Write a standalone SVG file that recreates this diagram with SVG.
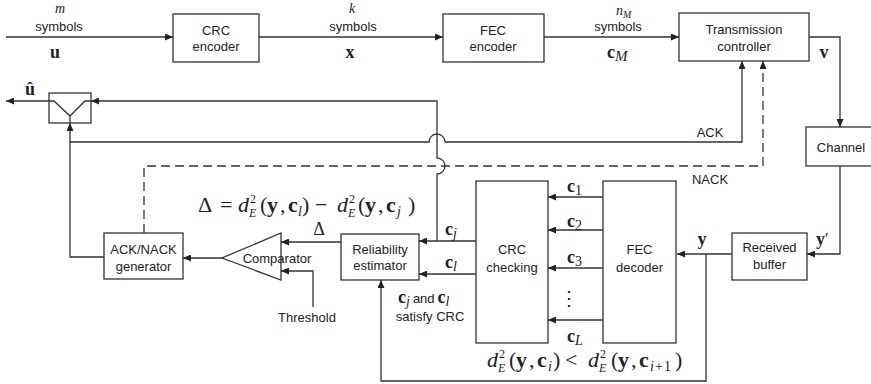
<svg xmlns="http://www.w3.org/2000/svg" width="871" height="384" viewBox="0 0 871 384">
<defs>
<marker id="ah" markerUnits="userSpaceOnUse" markerWidth="9" markerHeight="7" refX="8" refY="3.5" orient="auto">
<path d="M0,0 L8,3.5 L0,7 z" fill="#222"/>
</marker>
<style>
.box{fill:#fff;stroke:#333;stroke-width:1.3}
.ln{fill:none;stroke:#333;stroke-width:1.3}
.ar{fill:none;stroke:#333;stroke-width:1.3;marker-end:url(#ah)}
.dash{stroke-dasharray:9 5}
.t{font-family:"Liberation Sans",Arial,sans-serif;font-size:13px;fill:#222;text-anchor:middle}
.m{font-family:"Liberation Serif","Times New Roman",serif;font-size:18px;fill:#222}
.f{font-size:22px}
.mc{text-anchor:middle}
.b{font-weight:bold}
.i{font-style:italic}
.s{font-size:12px}
.ss{font-size:14px}
</style>
</defs>
<rect width="871" height="384" fill="#fff"/>

<g id="connectors">
<path class="ar" d="M6,37 H173"/>
<path class="ar" d="M259,37 H443"/>
<path class="ar" d="M544,37 H679"/>
<path class="ar" d="M809,37 H840 V127"/>
<path class="ar" d="M840,166 V254 H807"/>
<path class="ar" d="M732,254 H677"/>
<path class="ar" d="M706,254 V381 H381 V280"/>
<path class="ar" d="M603,197 H548"/>
<path class="ar" d="M603,230 H548"/>
<path class="ar" d="M603,268 H548"/>
<path class="ar" d="M603,320 H548"/>
<path class="ar" d="M476,241 H419"/>
<path class="ar" d="M476,274 H419"/>
<path class="ar" d="M437,241 V174 A8,8 0 0 0 437,158 V101 H91"/>
<path class="ar" d="M49,101 H6"/>
<path class="ar" d="M104,257 H70 V123"/>
<path class="ar" d="M70,142 H429 A8,8 0 0 1 445,142 H742 V61"/>
<path class="ar dash" d="M144,233 V166 H763 V61"/>
<path class="ar" d="M222,258 H183"/>
<path class="ar" d="M341,242 H281"/>
<path class="ar" d="M313,307 V271 H281"/>
</g>

<g id="crc-encoder">
<rect class="box" x="173" y="14" width="86" height="48"/>
<text class="t" x="216" y="35">CRC</text>
<text class="t" x="216" y="51">encoder</text>
</g>
<g id="fec-encoder">
<rect class="box" x="443" y="14" width="101" height="48"/>
<text class="t" x="493" y="35">FEC</text>
<text class="t" x="493" y="51">encoder</text>
</g>
<g id="transmission-controller">
<rect class="box" x="679" y="13" width="130" height="48"/>
<text class="t" x="744" y="34">Transmission</text>
<text class="t" x="744" y="51">controller</text>
</g>
<g id="channel">
<rect class="box" x="806" y="127" width="72" height="39"/>
<text class="t" x="841" y="152">Channel</text>
</g>
<g id="received-buffer">
<rect class="box" x="732" y="233" width="75" height="47"/>
<text class="t" x="769.5" y="252">Received</text>
<text class="t" x="769.5" y="269">buffer</text>
</g>
<g id="fec-decoder">
<rect class="box" x="603" y="181" width="73" height="162"/>
<text class="t" x="639.5" y="254">FEC</text>
<text class="t" x="639.5" y="272">decoder</text>
</g>
<g id="crc-checking">
<rect class="box" x="476" y="181" width="72" height="162"/>
<text class="t" x="512" y="254">CRC</text>
<text class="t" x="512" y="272">checking</text>
</g>
<g id="reliability-estimator">
<rect class="box" x="341" y="234" width="78" height="46"/>
<text class="t" x="380" y="254">Reliability</text>
<text class="t" x="380" y="270">estimator</text>
</g>
<g id="comparator">
<polygon class="box" points="281,233 281,280 222,258"/>
<text class="t" x="277" y="263">Comparator</text>
</g>
<g id="ack-nack-generator">
<rect class="box" x="104" y="233" width="79" height="46"/>
<text class="t" x="143.5" y="254">ACK/NACK</text>
<text class="t" x="143.5" y="271">generator</text>
</g>
<g id="switch">
<rect class="box" x="49" y="93" width="42" height="30"/>
<path class="ln" d="M49,101 H54 L70,116 L85,101 H91 M70,116 V123"/>
</g>

<g id="labels">
<text class="m mc i" x="60" y="13" style="font-size:14px">m</text>
<text class="t" x="59" y="31">symbols</text>
<text class="m mc b" x="55" y="58">u</text>
<text class="m mc i" x="352" y="13" style="font-size:14px">k</text>
<text class="t" x="353" y="31">symbols</text>
<text class="m mc b" x="350" y="58">x</text>
<text class="m i" x="616" y="15" style="font-size:14px">n<tspan dy="3" style="font-size:10px">M</tspan></text>
<text class="t" x="618" y="31">symbols</text>
<text class="m" x="607" y="58"><tspan class="b">c</tspan><tspan class="i" dy="3" style="font-size:15px">M</tspan></text>
<text class="m mc b" x="824" y="58">v</text>
<text class="t" x="710" y="137">ACK</text>
<text class="t" x="710" y="184">NACK</text>
<text class="m mc b" x="30" y="95">û</text>
<text class="m b" x="816" y="245">y<tspan dx="0" dy="-1" style="font-weight:normal;font-size:17px">′</tspan></text>
<text class="m mc b" x="702" y="245">y</text>
<text class="m" x="567" y="192"><tspan class="b">c</tspan><tspan dy="3" style="font-size:14px">1</tspan></text>
<text class="m" x="567" y="227"><tspan class="b">c</tspan><tspan dy="3" style="font-size:14px">2</tspan></text>
<text class="m" x="567" y="263"><tspan class="b">c</tspan><tspan dy="3" style="font-size:14px">3</tspan></text>
<text class="m mc" x="569" y="305" style="font-family:'DejaVu Serif',serif;font-size:20px">⋮</text>
<text class="m" x="567" y="342"><tspan class="b">c</tspan><tspan class="i" dy="3" style="font-size:14px">L</tspan></text>
<text class="m" x="445" y="235"><tspan class="b">c</tspan><tspan class="i" dy="3" style="font-size:14px">j</tspan></text>
<text class="m" x="445" y="268"><tspan class="b">c</tspan><tspan class="i" dy="3" style="font-size:14px">l</tspan></text>
<text class="m" x="398" y="303"><tspan class="b">c</tspan><tspan class="i" dy="3" style="font-size:14px">j</tspan><tspan dy="-3" dx="3" style="font-family:'Liberation Sans',Arial,sans-serif;font-size:13px">and</tspan><tspan class="b" dx="3">c</tspan><tspan class="i" dy="3" style="font-size:14px">l</tspan></text>
<text class="t" x="430" y="321">satisfy CRC</text>
<text class="m mc" x="319" y="235">Δ</text>
<text class="t" x="307" y="322">Threshold</text>
</g>

<g id="formula-delta">
<text class="m f" y="212"><tspan x="198">Δ</tspan><tspan x="220">=</tspan><tspan class="i" x="238">d</tspan><tspan class="s" x="250" y="203">2</tspan><tspan class="s i" x="249" y="217">E</tspan><tspan x="260" y="212">(</tspan><tspan class="b" x="267">y</tspan><tspan x="280">,</tspan><tspan class="b" x="288">c</tspan><tspan class="ss i" x="298" y="216">l</tspan><tspan x="302" y="212">)</tspan><tspan x="315">−</tspan><tspan class="i" x="337">d</tspan><tspan class="s" x="349" y="203">2</tspan><tspan class="s i" x="348" y="217">E</tspan><tspan x="358" y="212">(</tspan><tspan class="b" x="365">y</tspan><tspan x="378">,</tspan><tspan class="b" x="386">c</tspan><tspan class="ss i" x="397" y="216">j</tspan><tspan x="408" y="212">)</tspan></text>
</g>
<g id="formula-order">
<text class="m f" y="367"><tspan class="i" x="487">d</tspan><tspan class="s" x="499" y="358">2</tspan><tspan class="s i" x="498" y="372">E</tspan><tspan x="509" y="367">(</tspan><tspan class="b" x="516">y</tspan><tspan x="529">,</tspan><tspan class="b" x="537">c</tspan><tspan class="ss i" x="548" y="371">i</tspan><tspan x="553" y="367">)</tspan><tspan x="565">&lt;</tspan><tspan class="i" x="588">d</tspan><tspan class="s" x="600" y="358">2</tspan><tspan class="s i" x="599" y="372">E</tspan><tspan x="611" y="367">(</tspan><tspan class="b" x="618">y</tspan><tspan x="631">,</tspan><tspan class="b" x="639">c</tspan><tspan class="ss i" x="650" y="371">i</tspan><tspan class="ss" x="655" y="371">+</tspan><tspan class="ss" x="664" y="371">1</tspan><tspan x="675" y="367">)</tspan></text>
</g>
</svg>
